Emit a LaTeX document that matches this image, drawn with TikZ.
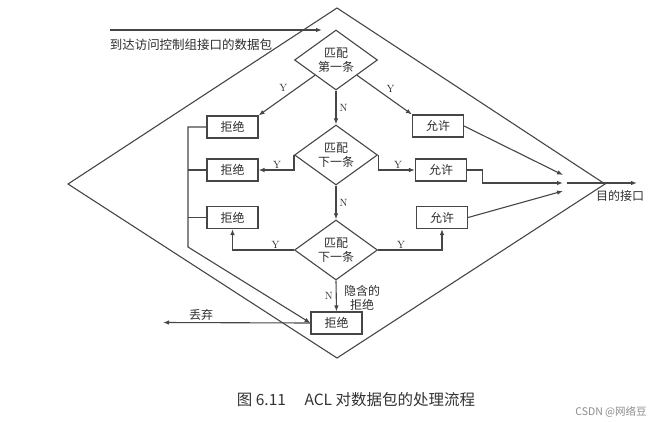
\documentclass[tikz,border=0pt]{standalone}
\usepackage{fontspec}
\newfontfamily\cjk{Noto Sans CJK SC}
\usepackage{tikz}
\usetikzlibrary{positioning,arrows.meta,calc,shapes.geometric}
\definecolor{tline}{RGB}{70,70,70}
\definecolor{ttext}{RGB}{45,45,45}

\begin{document}
\begin{tikzpicture}[
    x=1pt, y=-1pt,
    font=\cjk\fontsize{12}{13}\selectfont, text=ttext,
    >={Latex[length=6pt,width=4.5pt]},
    line/.style={draw=tline, line width=1.1pt},
    arr/.style={line, ->},
    box/.style={rectangle, line, minimum width=51pt, minimum height=22pt, inner sep=2pt},
    test/.style={diamond, line, minimum width=83pt, minimum height=60pt, aspect=1.4,
                 inner sep=0pt, align=center, font=\cjk\fontsize{12}{14}\selectfont},
    yn/.style={font=\rmfamily\fontsize{10.5}{11}\selectfont, inner sep=1pt},
    note/.style={font=\cjk\fontsize{12}{14}\selectfont, align=center, inner sep=1pt},
]
\useasboundingbox (0,0) rectangle (665,421);

% ---------- outer frame ----------
\coordinate (ftop)   at (337,8);
\coordinate (fright) at (605,184);
\coordinate (fbot)   at (337,358);
\coordinate (fleft)  at (68,184);
\draw[line] (ftop) -- (fright) -- (fbot) -- (fleft) -- cycle;

% ---------- incoming packet ----------
\coordinate (src)   at (110,30);
\coordinate (inlet) at (322,30);
\draw[arr] (src) -- (inlet);
\node[note, font=\cjk\fontsize{12.5}{14}\selectfont] (pkt) at (191,45) {到达访问控制组接口的数据包};

% ---------- tests ----------
\node[test] (d1) at (336,60)  {匹配\\第一条};
\node[test] (d2) at (336,155) {匹配\\下一条};
\node[test] (d3) at (336,250) {匹配\\下一条};

\node[box] (r1) at (232.5,127) {拒绝};
\node[box] (r2) at (232.5,170) {拒绝};
\node[box] (r3) at (232.5,217.5) {拒绝};
\node[box] (a1) at (438,126) {允许};
\node[box] (a2) at (441,170) {允许};
\node[box] (a3) at (442,217.5) {允许};
\node[box] (fin) at (336.5,323) {拒绝};

\draw[arr] (d1.south west) -- node[yn, above left=1pt, pos=.45] {Y} (r1.north east);
\draw[arr] (d1.south east) -- node[yn, above right=1pt, pos=.5] {Y} (a1.north west);
\draw[arr] (d1.south) -- node[yn, right=2pt] {N} (d2.north);

\draw[arr] (d2.west) |- node[yn, above, pos=.74] {Y} (r2.east);
\draw[arr] (d2.east) |- node[yn, above, pos=.77] {Y} (a2.west);
\draw[arr] (d2.south) -- node[yn, right=2pt] {N} (d3.north);

\draw[arr] (d3.west) -| node[yn, above, pos=.15] {Y} (r3.south);
\draw[arr] (d3.east) -| node[yn, above, pos=.18] {Y} (a3.south);
\draw[arr] (d3.south) -- node[yn, left=2pt] {N} (fin.north);
\node[note] (implicit) at (362,298) {隐含的\\拒绝};

% ---------- denied packets ----------
\coordinate (bustop) at (188,127);
\coordinate (busbot) at (188,247);
\draw[arr] (r1.west) -- (bustop) -- (busbot) -- (fin.west);
\draw[line] (r2.west) -- (r2.west -| bustop);
\draw[line] (r3.west) -- (r3.west -| bustop);

\coordinate (drop) at (163,322.5);
\draw[arr] (fin.west) -- (drop);
\node[note] (droplbl) at (201,315) {丢弃};

% ---------- permitted packets ----------
\coordinate (in1)  at (563,175);
\coordinate (in2)  at (563,183);
\coordinate (in3)  at (563,191);
\coordinate (join) at (567,183);
\coordinate (out)  at (637,183);
\draw[arr] (a1.east) -- (in1);
\draw[arr] (a2.east) -- ++(15,0) |- (in2);
\draw[arr] (a3.east) -- (in3);
\draw[arr] (join) -- (out);
\node[note] (dest) at (620,196) {目的接口};

% ---------- caption ----------
\node[font=\cjk\fontsize{15.5}{17}\selectfont, text=black!80] (cap) at (356,400)
  {图 6.11\hspace{1.2em}ACL 对数据包的处理流程};
\node[font=\cjk\fontsize{10.5}{12}\selectfont, text=black!45] (mark) at (611,412)
  {CSDN @网络豆};

\end{tikzpicture}
\end{document}
